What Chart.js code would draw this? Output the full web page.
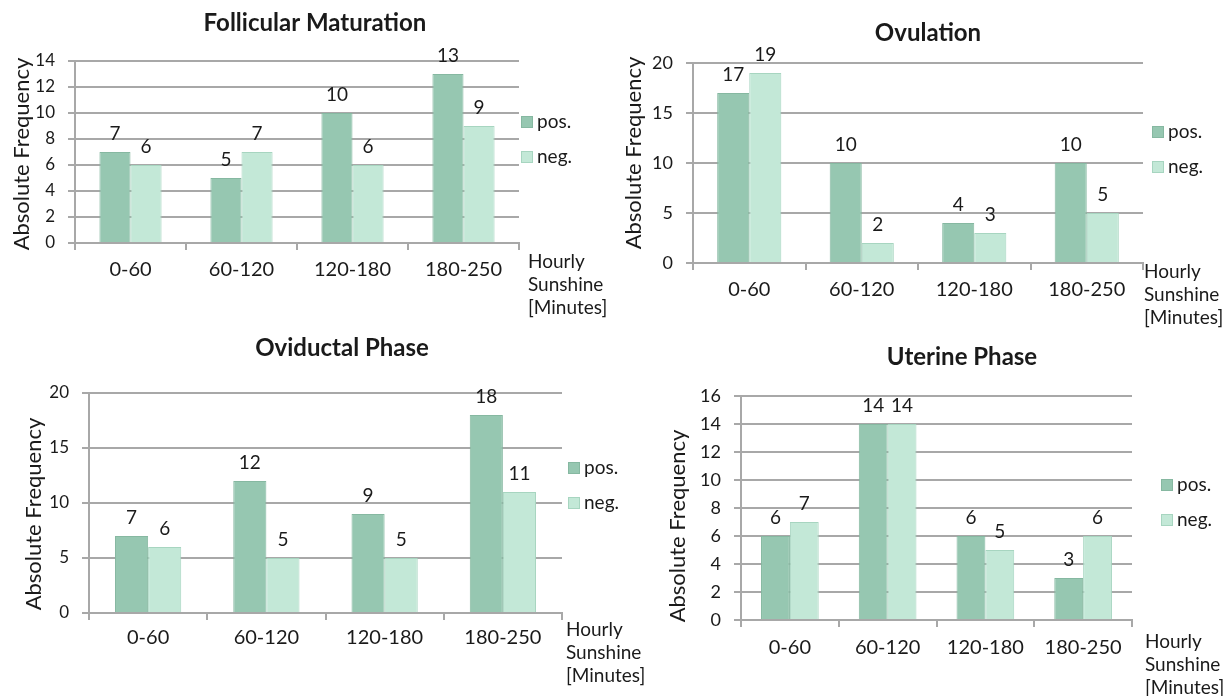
<!DOCTYPE html>
<html>
<head>
<meta charset="utf-8">
<title>Hourly sunshine by cycle phase</title>
<script src="https://cdn.jsdelivr.net/npm/chart.js@4"></script>
<style>
  html, body { margin: 0; background: #fff; overflow: hidden; }
  body { width: 1226px; height: 696px; position: relative; }
  .panel { position: absolute; }
</style>
</head>
<body>
<div class="panel"><canvas id="follicular"></canvas></div>
<div class="panel"><canvas id="ovulation"></canvas></div>
<div class="panel"><canvas id="oviductal"></canvas></div>
<div class="panel"><canvas id="uterine"></canvas></div>
<script>
// sunshine classes (minutes of sunshine per hour)
const categories = ['0-60', '60-120', '120-180', '180-250'];
const seriesNames = ['pos.', 'neg.'];
const yTitle = 'Absolute Frequency';
const xCaption = ['Hourly', 'Sunshine', '[Minutes]'];

const follicularPos = [7, 5, 10, 13];
const follicularNeg = [6, 7, 6, 9];
const follicularTicks = [0, 2, 4, 6, 8, 10, 12, 14];

const ovulationPos = [17, 10, 4, 10];
const ovulationNeg = [19, 2, 3, 5];
const ovulationTicks = [0, 5, 10, 15, 20];

const oviductalPos = [7, 12, 9, 18];
const oviductalNeg = [6, 5, 5, 11];
const oviductalTicks = [0, 5, 10, 15, 20];

const uterinePos = [6, 14, 6, 3];
const uterineNeg = [7, 14, 5, 6];
const uterineTicks = [0, 2, 4, 6, 8, 10, 12, 14, 16];

const posColor = '#96c7b1';
const posBorder = '#86b8a1';
const negColor = '#c3e8d7';
const negBorder = '#a7d5c0';
const gridColor = '#a8a8a8';
const textColor = '#1a1a1a';

Chart.defaults.font.family = 'Lato, "Open Sans", sans-serif';
Chart.defaults.color = textColor;

// value printed above each bar
const barValues = {
  id: 'barValues',
  afterDatasetsDraw(chart) {
    const ctx = chart.ctx;
    ctx.save();
    ctx.font = '19px Lato';
    ctx.fillStyle = textColor;
    ctx.textAlign = 'center';
    ctx.textBaseline = 'middle';
    chart.data.datasets.forEach((ds, i) => {
      chart.getDatasetMeta(i).data.forEach((bar, j) => {
        ctx.fillText(String(ds.data[j]), bar.x, bar.y - 18);
      });
    });
    ctx.restore();
  }
};

// panel title, rotated y title, legend on the right and the x caption
const panelText = {
  id: 'panelText',
  afterDraw(chart, args, opts) {
    const ctx = chart.ctx;
    ctx.save();
    ctx.fillStyle = textColor;
    ctx.textBaseline = 'middle';

    ctx.font = 'bold 24px Lato';
    ctx.textAlign = 'center';
    ctx.fillText(opts.title, opts.titleAt[0], opts.titleAt[1]);

    ctx.save();
    ctx.translate(opts.yTitleAt[0], opts.yTitleAt[1]);
    ctx.rotate(-Math.PI / 2);
    ctx.font = '22px Lato';
    ctx.fillText(yTitle, 0, 0);
    ctx.restore();

    ctx.font = '19px Lato';
    ctx.textAlign = 'left';
    const lx = opts.legendAt[0];
    chart.data.datasets.forEach((ds, i) => {
      const ly = opts.legendAt[1 + i];
      ctx.fillStyle = ds.backgroundColor;
      ctx.fillRect(lx, ly - 6, 12, 12);
      ctx.strokeStyle = ds.borderColor;
      ctx.lineWidth = 1;
      ctx.strokeRect(lx + 0.5, ly - 5.5, 11, 11);
      ctx.fillStyle = textColor;
      ctx.fillText(ds.label, lx + 16, ly);
    });

    xCaption.forEach((line, i) => {
      ctx.fillText(line, opts.captionAt[0], opts.captionAt[1] + i * 23);
    });
    ctx.restore();
  }
};

// box: panel placement on the page; plot: chart area inside the panel (left, top, right, bottom)
const panelLayout = {
  follicular: { box: [0, 0, 660, 330], plot: [75, 61, 519, 243], titleAt: [315, 23], yTitleAt: [22, 154],
                legendAt: [521, 122, 157], captionAt: [528, 262], barPct: 0.56, tickSize: 17, xPad: 8 },
  ovulation:  { box: [613, 0, 613, 340], plot: [80, 63, 530, 263], titleAt: [315, 33], yTitleAt: [21, 153],
                legendAt: [539, 132, 167], captionAt: [531, 272], barPct: 0.57, tickSize: 18, xPad: 8 },
  oviductal:  { box: [0, 330, 660, 366], plot: [89, 63, 562, 283], titleAt: [342, 18], yTitleAt: [34, 184],
                legendAt: [568, 138, 173], captionAt: [566, 300], barPct: 0.56, tickSize: 17, xPad: 6 },
  uterine:    { box: [613, 340, 613, 356], plot: [128, 56, 519, 280], titleAt: [349, 17], yTitleAt: [65, 186],
                legendAt: [548, 145, 180], captionAt: [532, 302], barPct: 0.59, tickSize: 18, xPad: 9 }
};

function makeChart(id, title, pos, neg, ticks) {
  const lay = panelLayout[id];
  const canvas = document.getElementById(id);
  const [left, top, width, height] = lay.box;
  Object.assign(canvas.parentNode.style, {
    left: left + 'px', top: top + 'px', width: width + 'px', height: height + 'px'
  });
  const [L, T, R, B] = lay.plot;

  return new Chart(canvas, {
    type: 'bar',
    data: {
      labels: categories,
      datasets: [
        { label: seriesNames[0], data: pos, backgroundColor: posColor, borderColor: posBorder, borderWidth: 1 },
        { label: seriesNames[1], data: neg, backgroundColor: negColor, borderColor: negBorder, borderWidth: 1 }
      ]
    },
    options: {
      responsive: true,
      maintainAspectRatio: false,
      animation: false,
      layout: { padding: { left: 0, top: T, right: width - R, bottom: 0 } },
      datasets: { bar: { categoryPercentage: lay.barPct, barPercentage: 1 } },
      plugins: {
        legend: { display: false },
        tooltip: { enabled: false },
        panelText: { title, titleAt: lay.titleAt, yTitleAt: lay.yTitleAt, legendAt: lay.legendAt, captionAt: lay.captionAt }
      },
      scales: {
        x: {
          grid: { offset: true, drawOnChartArea: false, tickLength: 7, color: gridColor, lineWidth: 2 },
          border: { color: gridColor, width: 2 },
          ticks: { font: { size: 20 }, padding: lay.xPad, color: textColor },
          afterFit: s => { s.height = height - B; }
        },
        y: {
          min: ticks[0],
          max: ticks[ticks.length - 1],
          afterBuildTicks: s => { s.ticks = ticks.map(v => ({ value: v })); },
          grid: { tickLength: 7, color: gridColor, lineWidth: 2 },
          border: { color: gridColor, width: 2 },
          ticks: { font: { size: lay.tickSize }, padding: 13, color: textColor },
          afterFit: s => { s.width = L; }
        }
      }
    },
    plugins: [barValues, panelText]
  });
}

makeChart('follicular', 'Follicular Maturation', follicularPos, follicularNeg, follicularTicks);
makeChart('ovulation', 'Ovulation', ovulationPos, ovulationNeg, ovulationTicks);
makeChart('oviductal', 'Oviductal Phase', oviductalPos, oviductalNeg, oviductalTicks);
makeChart('uterine', 'Uterine Phase', uterinePos, uterineNeg, uterineTicks);
</script>
</body>
</html>
